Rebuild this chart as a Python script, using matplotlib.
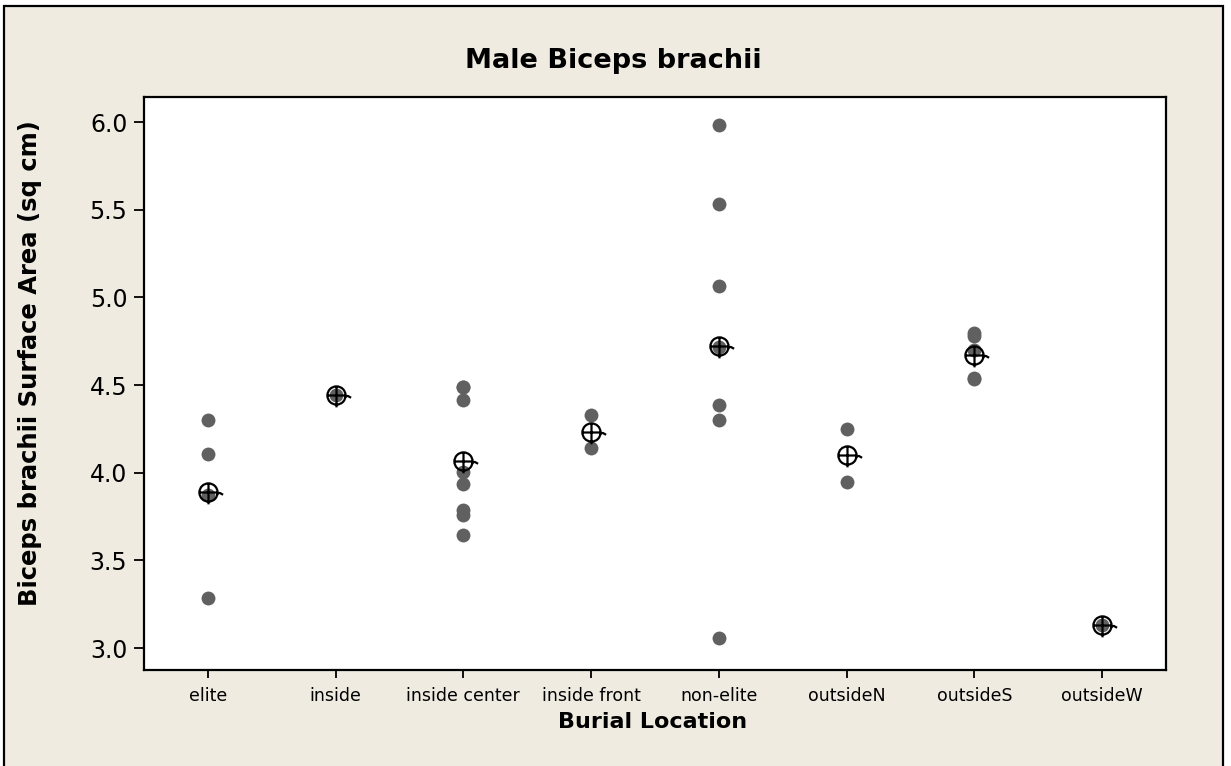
import numpy as np
import matplotlib
matplotlib.use("Agg")
import matplotlib.pyplot as plt
from matplotlib.path import Path
from matplotlib.patches import Rectangle


W, H = 1231, 766

CATEGORIES = ["elite", "inside", "inside center", "inside front",
              "non-elite", "outsideN", "outsideS", "outsideW"]

elite         = [4.30, 4.105, 3.875, 3.285]
inside        = [4.445]
inside_center = [4.49, 4.49, 4.415, 4.006, 3.936, 3.787, 3.76, 3.645]
inside_front  = [4.33, 4.14]
non_elite     = [5.983, 5.533, 5.067, 4.72, 4.386, 4.30, 3.057]
outside_n     = [4.25, 3.95]
outside_s     = [4.795, 4.78, 4.70, 4.54, 4.535]
outside_w     = [3.13]

GROUPS = [elite, inside, inside_center, inside_front,
          non_elite, outside_n, outside_s, outside_w]

Y_TICKS = [3.0, 3.5, 4.0, 4.5, 5.0, 5.5, 6.0]

BG   = "#EFEBE1"
DOT  = "#606060"


def mean_marker():
    # circle with crosshair and a small tail, like the Minitab mean symbol
    circle = Path.unit_circle()
    hline  = Path([[-1.0, 0.0], [1.0, 0.0]])
    vline  = Path([[0.0, -1.3], [0.0, 1.0]])
    tail   = Path([[0.85, -0.1], [1.25, -0.05], [1.6, -0.25]])
    return Path.make_compound_path(circle, hline, vline, tail)


fig = plt.figure(figsize=(W / 100, H / 100), dpi=100)
fig.patch.set_facecolor("white")

# beige frame with black border, open at the bottom
fig.patches.append(Rectangle((4 / W, -0.05), (1223 - 4) / W, 1.05 - 6 / H,
                             transform=fig.transFigure, facecolor=BG,
                             edgecolor="black", linewidth=1.6, zorder=-5))

left, right, top, bottom = 144, 1166, 97, 670
ax = fig.add_axes([left / W, 1 - bottom / H, (right - left) / W, (bottom - top) / H])
ax.set_facecolor("white")
ax.set_zorder(2)

for i, vals in enumerate(GROUPS):
    ax.plot([i] * len(vals), vals, linestyle="none", marker="o",
            markersize=10, markerfacecolor=DOT, markeredgecolor=DOT,
            markeredgewidth=0, zorder=3)

means = [np.mean(v) for v in GROUPS]
ax.plot(range(len(GROUPS)), means, linestyle="none", marker=mean_marker(),
        markersize=21, markerfacecolor="none", markeredgecolor="black",
        markeredgewidth=1.6, zorder=4)

ax.set_xlim(-0.5, len(CATEGORIES) - 0.5)
ax.set_ylim(2.875, 6.143)
ax.set_xticks(range(len(CATEGORIES)))
ax.set_xticklabels(CATEGORIES, fontsize=12.5)
ax.set_yticks(Y_TICKS)
ax.set_yticklabels([f"{t:.1f}" for t in Y_TICKS], fontsize=17)
ax.tick_params(axis="x", length=6, width=1.3, pad=6)
ax.tick_params(axis="y", length=7, width=1.3, pad=5)

for sp in ax.spines.values():
    sp.set_linewidth(1.6)

fig.text(613 / W, 1 - 61 / H, "Male Biceps brachii", ha="center", va="center",
         fontsize=19.5, fontweight="bold")
fig.text(653 / W, 1 - 722 / H, "Burial Location", ha="center", va="center",
         fontsize=16, fontweight="bold")
fig.text(30 / W, 1 - 363 / H, "Biceps brachii Surface Area (sq cm)", ha="center",
         va="center", rotation=90, fontsize=17.5, fontweight="bold")

fig.savefig("out.png", dpi=100)
